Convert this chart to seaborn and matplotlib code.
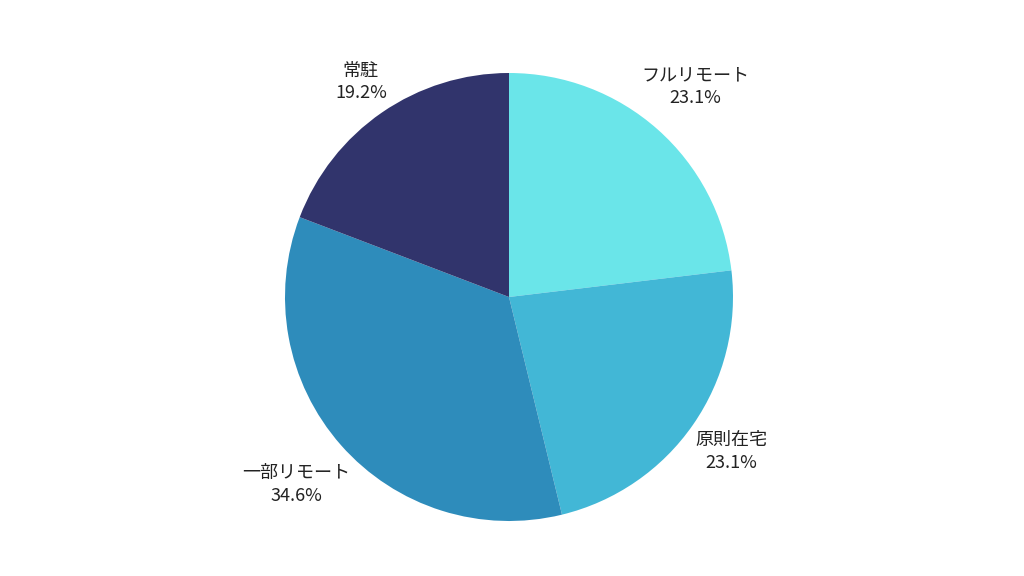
import matplotlib
matplotlib.use("Agg")
import matplotlib.pyplot as plt
import numpy as np
import seaborn as sns

sns.set_theme(style="white")
plt.rcParams['font.family'] = ['Noto Sans CJK JP', 'DejaVu Sans']

categories = ["フルリモート", "原則在宅", "一部リモート", "常駐"]
values = [23.1, 23.1, 34.6, 19.2]
colors = ["#6ae5e9", "#42b7d6", "#2e8cbb", "#31346c"]

fig = plt.figure(figsize=(10.24, 5.76), dpi=100)
fig.patch.set_facecolor("white")
ax = fig.add_axes([(509 - 224) / 1024, (576 - 297 - 224) / 576, 448 / 1024, 448 / 576])

labels = [f"{c}\n{v:.1f}%" for c, v in zip(categories, values)]
wedges, texts = ax.pie(values, labels=labels, colors=colors, startangle=90,
                       counterclock=False, labeldistance=1.22,
                       wedgeprops=dict(linewidth=0),
                       textprops=dict(fontsize=13, color="#222222",
                                      ha="center", va="center", linespacing=1.33))
ax.set_xlim(-1, 1)
ax.set_ylim(-1, 1)
ax.set_aspect("equal")
ax.axis("off")

# place each label so that its box sits just outside the rim along the slice's mid-angle
fig.canvas.draw()
renderer = fig.canvas.get_renderer()
px_per_unit = 224.0
R = 1.025
for w, t in zip(wedges, texts):
    t.set_ha("center")
    t.set_va("center")
    ang = np.deg2rad((w.theta1 + w.theta2) / 2)
    bb = t.get_window_extent(renderer)
    hw = bb.width / 2 / px_per_unit
    hh = bb.height / 2 / px_per_unit
    d = R + hw * abs(np.cos(ang)) + hh * abs(np.sin(ang))
    t.set_position((d * np.cos(ang), d * np.sin(ang)))

fig.savefig("out.png", dpi=100, facecolor="white")
